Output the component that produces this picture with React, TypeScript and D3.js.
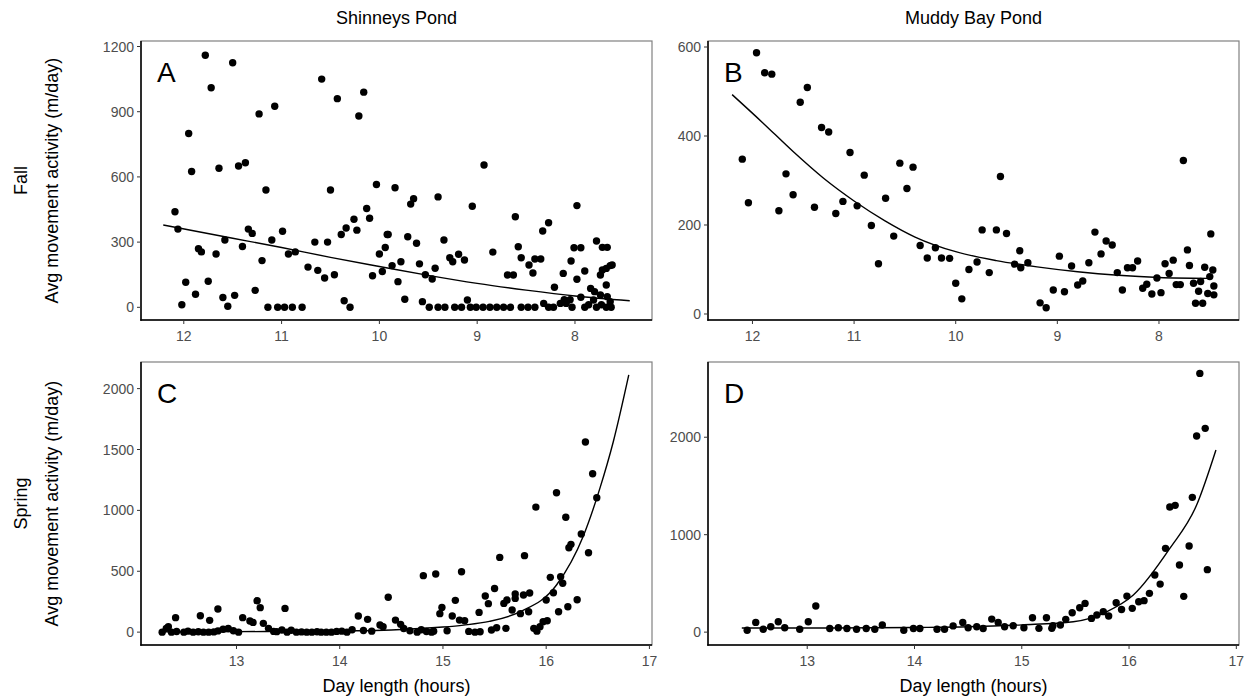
import React from "react";
import * as d3 from "d3";

type Pt = [number, number];

// ---------- tick labels ----------
const fallTicks = [12, 11, 10, 9, 8];
const springTicks = [13, 14, 15, 16, 17];
const yTicksA = [0, 300, 600, 900, 1200];
const yTicksB = [0, 200, 400, 600];
const yTicksC = [0, 500, 1000, 1500, 2000];
const yTicksD = [0, 1000, 2000];

const ponds = ["Shinneys Pond", "Muddy Bay Pond"];
const seasons = ["Fall", "Spring"];

// ---------- data: [day length (h), avg movement (m/day)] ----------
const shinneysFall: Pt[] = [
  [11.78,1160],[11.50,1125],[11.72,1010],[10.59,1050],[10.43,960],[10.16,990],[10.21,880],[11.23,890],[11.07,925],
  [11.95,800],[11.92,625],[11.64,640],[11.44,650],[11.37,665],[11.16,540],[10.50,540],[10.03,565],[12.09,440],
  [12.06,360],[10.13,455],[10.10,410],[10.26,405],[10.34,365],[10.23,355],[10.39,335],[11.34,360],[11.30,340],
  [11.58,310],[11.40,280],[11.10,310],[10.99,350],[10.66,300],[10.53,300],[9.92,335],[11.85,270],[11.82,255],
  [11.67,245],[10.93,245],[10.86,255],[11.20,215],[10.73,185],[10.63,170],[10.56,135],[10.46,150],[10.07,145],
  [9.97,165],[10.00,245],[9.94,275],[11.98,115],[11.75,120],[11.88,60],[12.02,12],[11.60,45],[11.55,5],[11.48,55],
  [11.27,78],[11.14,0],[11.04,0],[10.97,0],[10.89,0],[10.79,0],[10.36,30],[10.30,0],
  [8.93,655],[9.84,550],[9.68,475],[9.65,500],[9.40,508],[9.05,465],[9.91,335],[9.71,325],[9.62,295],[9.34,310],
  [9.78,210],[9.87,192],[9.59,200],[9.53,150],[9.46,130],[9.43,180],[9.81,118],[9.74,37],[9.56,26],[9.49,0],
  [9.28,228],[9.25,210],[9.19,244],[9.13,218],[8.84,254],[8.61,417],[8.58,279],[8.55,228],[8.47,195],[8.43,158],
  [8.41,222],[8.35,222],[8.33,351],[8.27,389],[9.10,34],[8.69,149],[8.63,149],[8.21,92],[8.12,156],[8.04,213],
  [7.98,468],[8.01,274],[7.94,274],[7.98,129],[7.90,167],[7.94,46],[7.78,305],[7.72,276],[7.67,276],[7.84,87],
  [7.74,149],[7.72,172],[7.68,179],[7.64,192],[7.62,195],[7.68,103],[7.80,72],[7.74,57],[7.67,49],[7.81,34],
  [7.64,26],[7.63,0],[9.40,0],[9.33,0],[9.23,0],[9.16,0],[9.07,0],[9.01,0],[8.94,0],[8.87,0],[8.80,0],[8.73,0],
  [8.66,0],[8.55,0],[8.48,0],[8.41,0],[8.32,18],[8.27,0],[8.22,0],[8.15,18],[8.09,18],[8.03,0],[7.90,0],[7.86,12],
  [7.78,0],[7.73,12],[7.68,0],[8.11,35],[8.05,35]
];

const muddyFall: Pt[] = [
  [11.96,587],[11.88,542],[11.81,539],[11.46,509],[11.53,476],[11.32,419],[11.25,409],[11.04,363],[10.55,339],
  [10.42,330],[10.90,312],[10.48,282],[11.67,315],[11.60,268],[12.04,250],[12.10,348],[11.74,232],[11.39,240],
  [11.18,226],[11.11,253],[10.97,243],[10.69,260],[10.83,199],[10.61,175],[10.76,113],[10.35,154],[10.28,126],
  [10.20,149],[10.14,126],[10.06,125],[10.00,69],[9.94,34],[9.87,100],[9.79,117],[9.74,189],[9.67,93],[9.60,189],
  [9.56,309],[9.50,181],[9.37,142],[9.42,112],[9.36,104],[9.29,115],[9.17,25],[9.11,14],[9.04,54],[8.93,50],
  [8.98,130],[8.86,108],[8.80,65],[8.75,74],[8.69,115],[8.63,184],[8.57,135],[8.52,164],[8.46,155],[8.41,93],
  [8.36,54],[8.31,104],[8.26,104],[8.21,119],[8.16,58],[8.12,67],[8.07,45],[8.02,81],[7.98,48],[7.94,113],
  [7.90,91],[7.86,121],[7.83,66],[7.79,66],[7.76,345],[7.72,144],[7.70,109],[7.66,69],[7.64,24],[7.61,51],
  [7.59,73],[7.57,24],[7.55,105],[7.50,84],[7.49,180],[7.52,46],[7.47,99],[7.46,63],[7.46,43]
];

const shinneysSpring: Pt[] = [
  [13.20,258],[13.23,201],[13.47,195],[12.82,190],[12.41,119],[12.65,135],[12.74,97],[13.06,119],[13.13,91],
  [13.16,80],[14.18,132],[14.27,105],[14.47,286],[12.34,45],[13.26,72],[14.39,58],
  [16.38,1561],[16.45,1301],[16.49,1104],[16.10,1145],[15.90,1027],[16.19,943],[16.34,806],[16.24,721],
  [16.22,693],[16.41,652],[15.55,614],[15.79,628],[14.81,464],[14.93,477],[15.18,496],[16.04,450],[16.14,455],
  [16.16,401],[15.50,359],[15.41,297],[15.12,261],[14.99,203],[14.97,152],[15.44,234],[15.59,236],[15.62,264],
  [15.70,313],[15.70,277],[15.78,305],[15.84,321],[16.00,264],[16.07,324],[16.30,266],[16.21,209],[16.12,168],
  [15.35,162],[15.67,182],[15.75,152],[15.83,168],[15.09,132],[15.16,99],[15.21,94],[14.54,99],[14.59,64],
  [15.97,86],[16.01,94],[15.88,31],[15.94,45],[15.52,36],[15.61,31],[14.42,45],[14.84,5],[14.91,8],[15.04,12],
  [15.25,6],[15.36,3],[15.47,17],[15.31,0],[15.91,8],
  [12.28,0],[12.32,31],[12.37,0],[12.42,5],[12.49,0],[12.53,8],[12.58,0],[12.63,3],[12.68,0],[12.73,0],
  [12.78,2],[12.82,10],[12.87,24],[12.92,30],[12.97,12],[13.02,0],[13.31,31],[13.36,6],[13.39,4],[13.44,18],
  [13.49,0],[13.53,16],[13.58,0],[13.63,2],[13.68,0],[13.73,0],[13.78,3],[13.82,0],[13.87,0],[13.92,0],
  [13.97,6],[14.02,8],[14.07,0],[14.12,20],[14.23,14],[14.31,8],[14.62,30],[14.68,12],[14.75,0],[14.79,20],
  [14.89,0]
];

const muddySpring: Pt[] = [
  [12.44,20],[13.08,268],[12.52,100],[12.73,107],[13.01,107],[12.66,56],[12.79,45],[13.70,73],[14.45,100],
  [14.72,134],[14.78,100],[12.59,30],[12.93,30],[13.21,38],[13.29,45],[13.37,38],[13.46,30],[13.55,38],
  [13.63,30],[13.90,20],[13.99,38],[14.05,38],[14.21,30],[14.28,30],[14.36,64],[14.50,45],[14.58,55],[14.64,38],
  [16.66,2655],[16.71,2091],[16.63,2012],[16.59,1383],[16.43,1301],[16.38,1284],[16.34,860],[16.56,884],
  [16.47,689],[16.73,641],[16.24,586],[16.51,367],[16.29,493],[16.19,398],[16.14,323],[16.09,312],[16.03,244],
  [15.98,370],[15.93,233],[15.88,302],[15.81,165],[15.76,210],[15.70,176],[15.65,141],[15.59,295],[15.54,251],
  [15.47,199],[15.41,131],[15.36,73],[15.29,66],[15.23,148],[15.10,148],[15.16,39],[14.84,56],[14.92,66],
  [15.02,45],[15.28,39]
];

// ---------- fitted curves ----------
const fitA: Pt[] = [[12.21,379],[11.5,318],[11,275],[10.5,230],[10,188],[9.5,147],[9,110],[8.5,79],[8,52],[7.44,30]];
const fitB: Pt[] = [[12.2,493],[11.9,430],[11.6,365],[11.3,305],[11,254],[10.7,210],[10.4,173],[10,140],[9.6,120],[9.2,106],[8.8,95],[8.4,87],[8,82],[7.52,80]];
const fitC: Pt[] = [[12.3,2],[13,4],[13.5,6],[14,10],[14.5,18],[15,42],[15.2,58],[15.45,88],[15.75,168],[16.1,387],[16.36,790],[16.52,1181],[16.65,1564],[16.8,2113]];
const fitD: Pt[] = [[12.39,42],[13,42],[14,48],[14.5,55],[15,75],[15.48,107],[15.79,209],[16.04,381],[16.38,859],[16.63,1304],[16.81,1869]];

// ---------- layout ----------
const FONT = "'Liberation Sans', Arial, Helvetica, sans-serif";
const TICK_COL = "#4d4d4d";
const TICK_FS = 14;
const TITLE_FS = 18;
const colX = [[141, 652], [708, 1239]];
const rowY = [[41, 320], [362, 645]];
const fallDomain: [number, number] = [12.4375, 7.2125];
const springDomain: [number, number] = [12.075, 17.025];

interface PanelProps {
  col: number; row: number; letter: string; points: Pt[]; fit: Pt[];
  yDomain: [number, number]; yTicks: number[]; xTicks: number[]; xDomain: [number, number];
}

function Panel({ col, row, letter, points, fit, yDomain, yTicks, xTicks, xDomain }: PanelProps) {
  const [x0, x1] = colX[col];
  const [y0, y1] = rowY[row];
  const xs = d3.scaleLinear().domain(xDomain).range([x0, x1]);
  const ys = d3.scaleLinear().domain(yDomain).range([y1, y0]);
  const sortedFit = [...fit].sort((a, b) => xs(a[0]) - xs(b[0]));
  const line = d3.line<Pt>().x(d => xs(d[0])).y(d => ys(d[1])).curve(d3.curveMonotoneX);
  return (
    <g>
      <rect x={x0} y={y0} width={x1 - x0} height={y1 - y0} fill="white" stroke="#808080" strokeWidth={1.2} />
      {points.map((p, i) => (
        <circle key={i} cx={xs(p[0])} cy={ys(p[1])} r={3.7} fill="#000" />
      ))}
      <path d={line(sortedFit) || ""} fill="none" stroke="#000" strokeWidth={1.4} />
      <line x1={x0} x2={x0} y1={y0} y2={y1 + 0.7} stroke="#000" strokeWidth={1.5} />
      <line x1={x0 - 0.7} x2={x1} y1={y1} y2={y1} stroke="#000" strokeWidth={1.5} />
      {yTicks.map(t => (
        <g key={"y" + t}>
          <line x1={x0 - 4} x2={x0} y1={ys(t)} y2={ys(t)} stroke="#333" strokeWidth={1} />
          <text x={x0 - 7} y={ys(t)} dy="0.36em" textAnchor="end" fontSize={TICK_FS} fill={TICK_COL} fontFamily={FONT}>{t}</text>
        </g>
      ))}
      {xTicks.map(t => (
        <g key={"x" + t}>
          <line x1={xs(t)} x2={xs(t)} y1={y1} y2={y1 + 4} stroke="#333" strokeWidth={1} />
          <text x={xs(t)} y={y1 + 21} textAnchor="middle" fontSize={TICK_FS} fill={TICK_COL} fontFamily={FONT}>{t}</text>
        </g>
      ))}
      <text x={x0 + 16} y={y0 + 41} fontSize={28} fill="#000" fontFamily={FONT}>{letter}</text>
    </g>
  );
}

export default function App() {
  const yTitle = "Avg movement activity (m/day)";
  return (
    <svg width={1253} height={698} style={{ display: "block", position: "absolute", left: 0, top: 0 }} fontFamily={FONT}>
      <rect x={0} y={0} width={1253} height={698} fill="white" />
      {ponds.map((p, i) => (
        <text key={p} x={(colX[i][0] + colX[i][1]) / 2} y={24} textAnchor="middle" fontSize={TITLE_FS} fill="#000">{p}</text>
      ))}
      {seasons.map((s, i) => {
        const cy = (rowY[i][0] + rowY[i][1]) / 2;
        return (
          <g key={s}>
            <text transform={`translate(27,${cy}) rotate(-90)`} textAnchor="middle" fontSize={TITLE_FS} fill="#000">{s}</text>
            <text transform={`translate(58,${cy}) rotate(-90)`} textAnchor="middle" fontSize={TITLE_FS} fill="#000">{yTitle}</text>
          </g>
        );
      })}
      <Panel col={0} row={0} letter="A" points={shinneysFall} fit={fitA} yDomain={[-58.35, 1225.35]} yTicks={yTicksA} xTicks={fallTicks} xDomain={fallDomain} />
      <Panel col={1} row={0} letter="B" points={muddyFall} fit={fitB} yDomain={[-13.5, 613.5]} yTicks={yTicksB} xTicks={fallTicks} xDomain={fallDomain} />
      <Panel col={0} row={1} letter="C" points={shinneysSpring} fit={fitC} yDomain={[-105.65, 2218.65]} yTicks={yTicksC} xTicks={springTicks} xDomain={springDomain} />
      <Panel col={1} row={1} letter="D" points={muddySpring} fit={fitD} yDomain={[-132, 2772]} yTicks={yTicksD} xTicks={springTicks} xDomain={springDomain} />
      {colX.map((c, i) => (
        <text key={"xt" + i} x={(c[0] + c[1]) / 2} y={692} textAnchor="middle" fontSize={TITLE_FS} fill="#000">Day length (hours)</text>
      ))}
    </svg>
  );
}
